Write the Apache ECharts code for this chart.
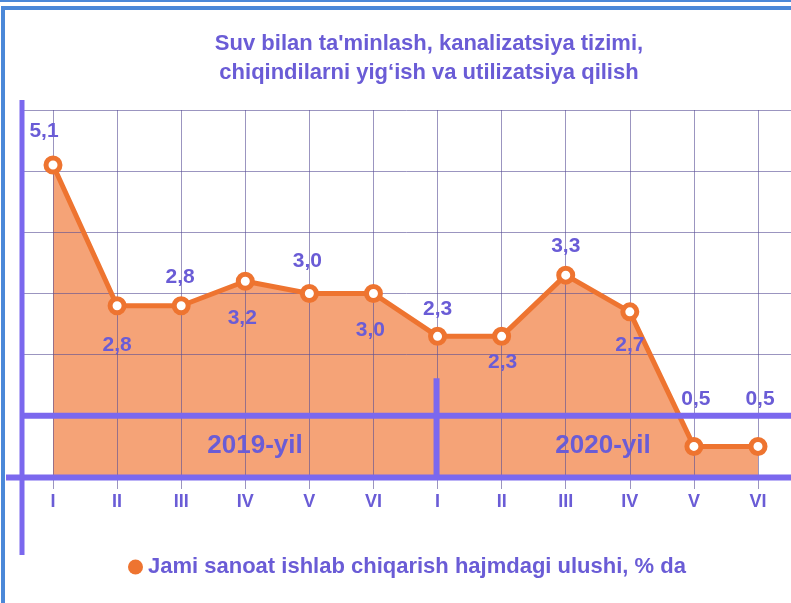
<!DOCTYPE html>
<html>
<head>
<meta charset="utf-8">
<script src="https://cdn.jsdelivr.net/npm/echarts@6/dist/echarts.min.js"></script>
<style>
  html, body { margin: 0; padding: 0; background: #fff; }
  #chart { width: 791px; height: 603px; }
</style>
</head>
<body>
<div id="chart"></div>
<script>
// values
const months = ['I', 'II', 'III', 'IV', 'V', 'VI', 'I', 'II', 'III', 'IV', 'V', 'VI'];
const shareValues = [5.1, 2.8, 2.8, 3.2, 3.0, 3.0, 2.3, 2.3, 3.3, 2.7, 0.5, 0.5];
const yearNames = ['2019-yil', '2020-yil'];
const seriesName = 'Jami sanoat ishlab chiqarish hajmdagi ulushi, % da';
const titleText = "Suv bilan ta'minlash, kanalizatsiya tizimi,\nchiqindilarni yig\u2018ish va utilizatsiya qilish";

// where each number sits relative to its point (px)
const labelNudge = [[-9, -34], [0, 39], [-1, -29], [-3, 37], [-2, -32], [-3, 37],
                    [0, -27], [1, 26], [0, -29], [0, 33], [2, -47], [2, -47]];

const FONT = "'Liberation Sans', Arial, sans-serif";
const PURPLE = '#6a5cd6';
const BAR = '#7b68ee';
const GRID = 'rgba(88, 78, 150, 0.6)';
const ORANGE = '#ee7430';
const FRAME = '#4b88d8';

const chart = echarts.init(document.getElementById('chart'));

const pointData = shareValues.map((v, i) => ({
  value: v,
  label: { offset: labelNudge[i] }
}));

chart.setOption({
  backgroundColor: '#fff',
  animation: false,
  title: {
    text: titleText,
    left: 424,
    top: 24,
    textAlign: 'center',
    textStyle: { fontFamily: FONT, fontSize: 22, fontWeight: 'bold', color: PURPLE, lineHeight: 29 }
  },
  legend: {
    data: [seriesName],
    left: 123,
    top: 551,
    icon: 'circle',
    itemWidth: 15,
    itemHeight: 15,
    itemStyle: { color: ORANGE, borderWidth: 0 },
    textStyle: { fontFamily: FONT, fontSize: 22, fontWeight: 'bold', color: PURPLE }
  },
  grid: [
    { left: 22, right: 0, top: 110, bottom: 126 },
    { left: 53, right: 33, top: 110, bottom: 126 }
  ],
  xAxis: [
    { gridIndex: 0, type: 'value', min: 0, max: 1, show: false },
    {
      gridIndex: 1, type: 'category', data: months, boundaryGap: false, z: 2,
      axisLine: { show: false },
      axisTick: { show: true, length: 12, lineStyle: { color: GRID } },
      axisLabel: { margin: 16, fontFamily: FONT, fontSize: 18, fontWeight: 'bold', color: PURPLE },
      splitLine: { show: true, lineStyle: { color: GRID, width: 1 } }
    }
  ],
  yAxis: [
    {
      gridIndex: 0, type: 'value', min: 0, max: 6, interval: 1, z: 2,
      axisLine: { show: false }, axisTick: { show: false }, axisLabel: { show: false },
      splitLine: { show: true, lineStyle: { color: GRID, width: 1 } }
    },
    { gridIndex: 1, type: 'value', min: 0, max: 6, interval: 1, show: false, splitLine: { show: false } }
  ],
  series: [
    {
      name: 'area', type: 'line', xAxisIndex: 1, yAxisIndex: 1, z: 1, silent: true,
      data: shareValues, symbol: 'none',
      lineStyle: { width: 0 },
      areaStyle: { color: 'rgba(244, 150, 100, 0.88)', opacity: 1 }
    },
    {
      name: seriesName, type: 'line', xAxisIndex: 1, yAxisIndex: 1, z: 3,
      data: pointData,
      symbol: 'circle', symbolSize: 14,
      lineStyle: { color: ORANGE, width: 5 },
      itemStyle: { color: '#fff', borderColor: ORANGE, borderWidth: 5 },
      label: {
        show: true, position: 'inside',
        fontFamily: FONT, fontSize: 21, fontWeight: 'bold', color: PURPLE,
        formatter: p => p.value.toFixed(1).replace('.', ',')
      }
    }
  ]
});

// decorative frame and heavy axis bars, placed from the axes' own scales
const y0 = chart.convertToPixel({ yAxisIndex: 0 }, 0);
const y1 = chart.convertToPixel({ yAxisIndex: 0 }, 1);
const yTop = chart.convertToPixel({ yAxisIndex: 0 }, 6);
const yDiv = chart.convertToPixel({ yAxisIndex: 0 }, 1.5);
const yYear = chart.convertToPixel({ yAxisIndex: 0 }, 0.5);
const xDiv = chart.convertToPixel({ xAxisIndex: 1 }, 6);

chart.setOption({
  graphic: [
    { type: 'line', shape: { x1: 0, y1: 1, x2: 791, y2: 1 }, style: { stroke: FRAME, lineWidth: 2 } },
    { type: 'rect', shape: { x: 3, y: 8, width: 900, height: 700 }, style: { fill: null, stroke: FRAME, lineWidth: 4 } },
    { type: 'line', z: 10, shape: { x1: 6, y1: y0 + 0.5, x2: 791, y2: y0 + 0.5 }, style: { stroke: BAR, lineWidth: 6 } },
    { type: 'line', z: 10, shape: { x1: 22, y1: y1, x2: 791, y2: y1 }, style: { stroke: BAR, lineWidth: 6 } },
    { type: 'line', z: 10, shape: { x1: 22, y1: yTop - 10, x2: 22, y2: 555 }, style: { stroke: BAR, lineWidth: 5 } },
    { type: 'line', z: 10, shape: { x1: xDiv - 1, y1: yDiv - 7, x2: xDiv - 1, y2: y0 }, style: { stroke: BAR, lineWidth: 6 } },
    { type: 'text', z: 10, x: 255, y: yYear - 1, style: { text: yearNames[0], align: 'center', verticalAlign: 'middle', font: "bold 26px " + FONT, fill: PURPLE } },
    { type: 'text', z: 10, x: 603, y: yYear - 1, style: { text: yearNames[1], align: 'center', verticalAlign: 'middle', font: "bold 26px " + FONT, fill: PURPLE } }
  ]
});
</script>
</body>
</html>
